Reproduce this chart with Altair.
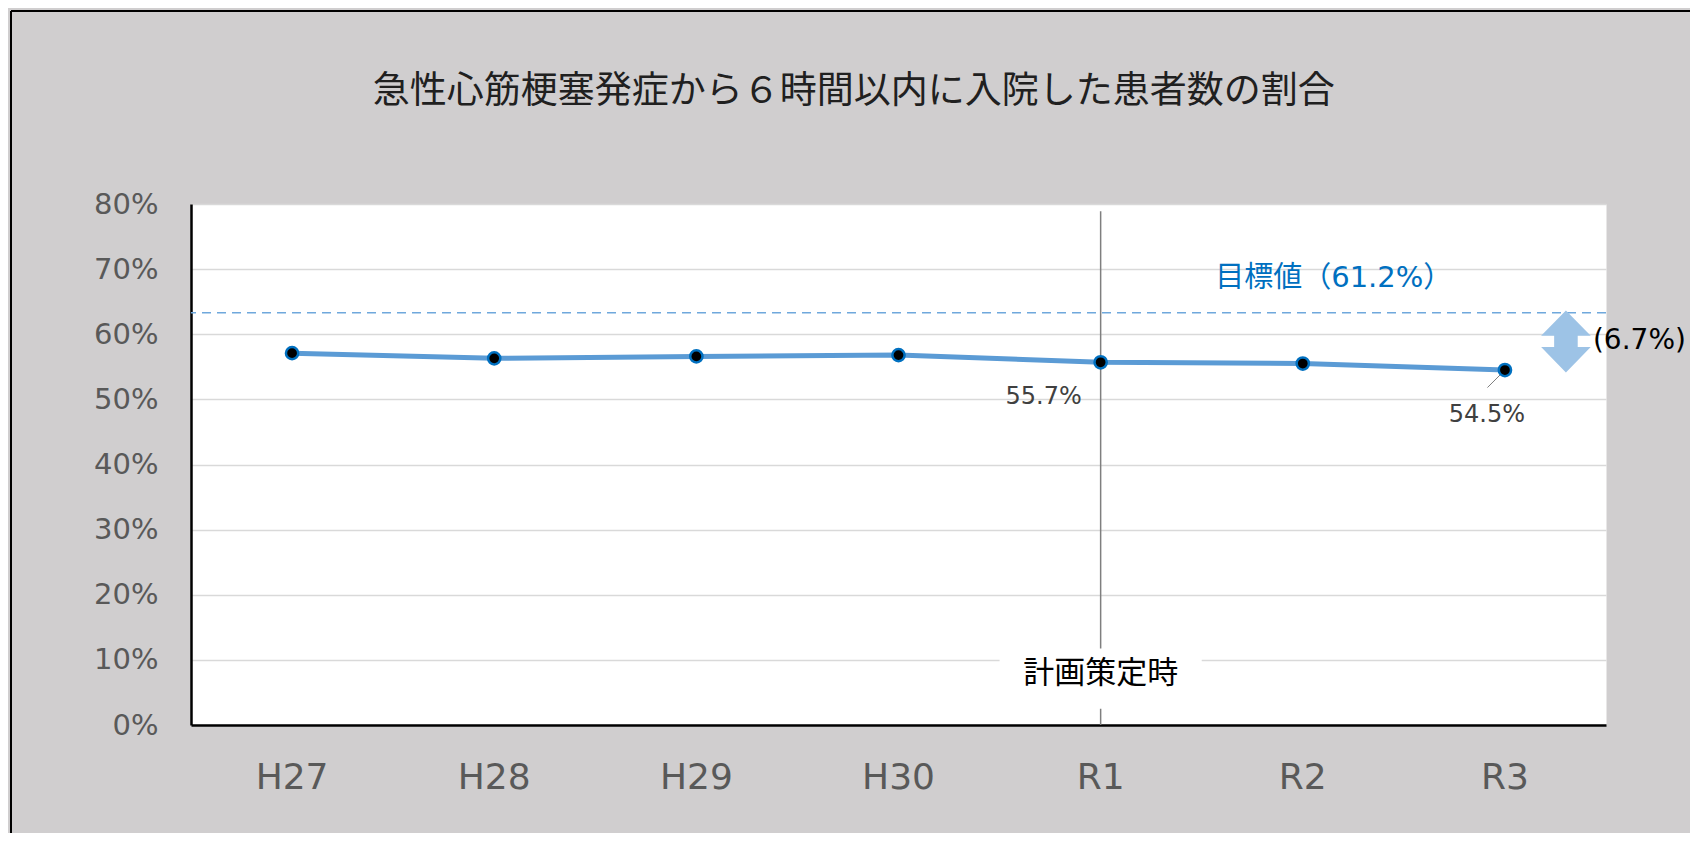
import altair as alt
import pandas as pd

# ---- data ----
years = ["H27", "H28", "H29", "H30", "R1", "R2", "R3"]
rates = [57.1, 56.3, 56.6, 56.8, 55.7, 55.5, 54.5]
label_years = ["R1", "R3"]
y_ticks = [0, 10, 20, 30, 40, 50, 60, 70, 80]
title_text = "急性心筋梗塞発症から６時間以内に入院した患者数の割合"
target_value = 61.2
target_line_y = 63.3          # height at which the dashed target line is drawn
target_label = "目標値（61.2%）"
gap_value = 6.7
gap_label = "(6.7%)"
plan_year = "R1"
plan_label = "計画策定時"
plan_line_top = 78.9
plan_box = [2.5, 11.75]
plan_label_y = 7.8

# ---- layout ----
W, H = 1415, 521
PAD = {"left": 183, "top": 196, "right": 84, "bottom": 108}

df = pd.DataFrame({"year": years, "rate": rates,
                   "label": [f"{v:.1f}%" for v in rates]})

x_scale = alt.Scale(domain=years, paddingInner=0, paddingOuter=0)
y_scale = alt.Scale(domain=[0, 80], nice=False, zero=True)

x_axis = alt.Axis(title="", labelFont="DejaVu Sans", labelFontSize=36,
                  labelColor="#595959", labelPadding=52, labelBaseline="middle",
                  labelAngle=0, ticks=False, tickSize=0, domainColor="black",
                  domainWidth=2.5, grid=False)
y_axis = alt.Axis(title="", values=y_ticks, labelExpr="datum.value + '%'",
                  labelFont="DejaVu Sans", labelFontSize=29, labelColor="#595959",
                  labelPadding=33, ticks=False, tickSize=0, domainColor="black",
                  domainWidth=2.5, grid=True, gridColor="#D9D9D9", gridWidth=1.5)


def X():
    return alt.X("year:N", scale=x_scale, axis=x_axis)


def Y(field):
    return alt.Y(f"{field}:Q", scale=y_scale, axis=y_axis)


# target dashed line and its label
tdf = pd.DataFrame({"year": ["R2"], "y": [target_line_y], "label": [target_label]})
target_rule = alt.Chart(tdf).mark_rule(
    color="#6FA8DC", strokeWidth=1.5, strokeDash=[9, 6]
).encode(y=Y("y"))
target_text = alt.Chart(tdf).mark_text(
    dx=31, dy=-35, fontSize=29, color="#0070C0",
    font="DejaVu Sans, Noto Sans CJK JP", baseline="middle"
).encode(x=X(), y=Y("y"), text="label:N")

# plan (計画策定時) vertical line with label box
pdf = pd.DataFrame({"year": [plan_year], "bottom": [0], "top": [plan_line_top],
                    "b0": [plan_box[0]], "b1": [plan_box[1]],
                    "ly": [plan_label_y], "label": [plan_label]})
plan_rule = alt.Chart(pdf).mark_rule(color="#7F7F7F", strokeWidth=1.5).encode(
    x=X(), y=Y("bottom"), y2="top")
plan_rect = alt.Chart(pdf).mark_rect(color="white").encode(
    x=X(), y=Y("b0"), y2="b1")
plan_text = alt.Chart(pdf).mark_text(
    font="Noto Sans CJK JP", fontSize=31, color="black", baseline="middle"
).encode(x=X(), y=Y("ly"), text="label:N")

# data line and points
line = alt.Chart(df).mark_line(color="#5B9BD5", strokeWidth=5).encode(
    x=X(), y=Y("rate"))
leader = alt.Chart(df[df.year == "R3"]).mark_point(
    shape="M0,0L-1,1", size=1225, filled=False, stroke="#7F7F7F",
    strokeWidth=1, opacity=1
).encode(x=X(), y=Y("rate"))
points = alt.Chart(df).mark_circle(
    color="black", stroke="#0070C0", strokeWidth=2.5, size=150, opacity=1
).encode(x=X(), y=Y("rate"))

lab_r1 = alt.Chart(df[df.year == label_years[0]]).mark_text(
    dx=-57, dy=35, fontSize=24, color="#404040", font="DejaVu Sans"
).encode(x=X(), y=Y("rate"), text="label:N")
lab_r3 = alt.Chart(df[df.year == label_years[1]]).mark_text(
    dx=-18, dy=45, fontSize=24, color="#404040", font="DejaVu Sans"
).encode(x=X(), y=Y("rate"), text="label:N")

# gap arrow
arrow_path = ("M0,-1L0.8,-0.18L0.38,-0.18L0.38,0.18L0.8,0.18L0,1"
              "L-0.8,0.18L-0.38,0.18L-0.38,-0.18L-0.8,-0.18Z")
gdf = pd.DataFrame({"year": [years[-1]], "mid": [(target_line_y + rates[-1]) / 2],
                    "label": [gap_label]})
arrow = alt.Chart(gdf).mark_point(
    shape=arrow_path, size=3844, filled=True, color="#9DC3E6",
    strokeWidth=0, opacity=1, xOffset=61
).encode(x=X(), y=Y("mid"))
gap_text = alt.Chart(gdf).mark_text(
    align="left", baseline="middle", dx=88, fontSize=28, color="black",
    font="DejaVu Sans"
).encode(x=X(), y=Y("mid"), text="label:N")

# title and outer frame
one = pd.DataFrame({"t": [title_text]})
title = alt.Chart(one).mark_text(
    font="Noto Sans CJK JP", fontSize=37, color="#202020", baseline="middle"
).encode(x=alt.value(662.7), y=alt.value(-112), text="t:N")
frame_top = alt.Chart(one).mark_rule(color="black", strokeWidth=2).encode(
    x=alt.value(-180), x2=alt.value(1700), y=alt.value(-193))
frame_left = alt.Chart(one).mark_rule(color="black", strokeWidth=2).encode(
    x=alt.value(-180), y=alt.value(-193), y2=alt.value(700))

chart = alt.layer(
    target_rule, plan_rule, plan_rect, plan_text, line, leader, points,
    lab_r1, lab_r3, arrow, gap_text, target_text, title, frame_top, frame_left
).properties(
    width=W, height=H,
    autosize=alt.AutoSizeParams(type="none"),
    padding=PAD,
    background="#D0CECF",
).configure_view(fill="white", stroke="transparent")

chart.save("out.html", embed_options={"renderer": "svg", "actions": False})
